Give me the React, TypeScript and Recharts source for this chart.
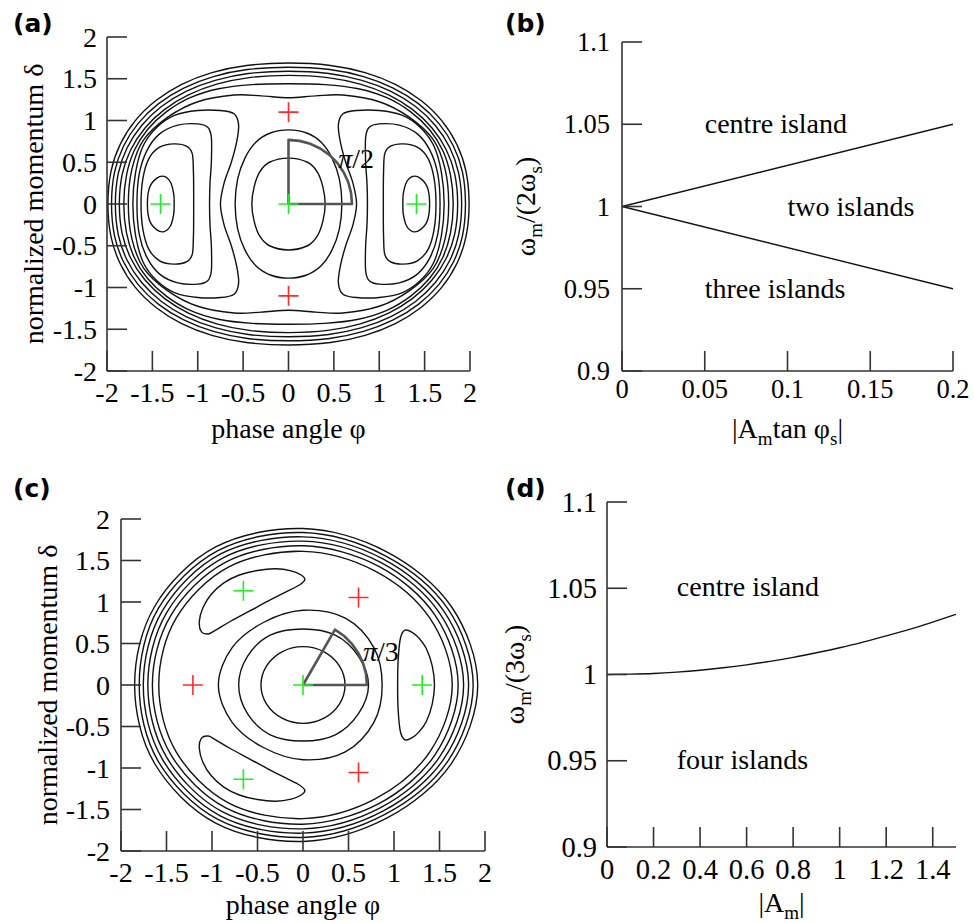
import React from "react";
import { ComposedChart, Line, XAxis, YAxis, ReferenceDot, Label } from "recharts";

type Pt = [number, number];

const SERIF = "'Liberation Serif', 'Times New Roman', serif";
const LETTER = "'DejaVu Sans', 'Liberation Sans', sans-serif";
const FRAME = "#333";
const INK = "#111";
const RED = "#ff2a2a";
const GREEN = "#22ee22";

// ---------- (a) 2:1 resonance phase space ----------
const phaseTicks = [-2, -1.5, -1, -0.5, 0, 0.5, 1, 1.5, 2];

const aOuter1: Pt[] = [
  [1.99, 0], [1.956, 0.392], [1.854, 0.716], [1.688, 0.999], [1.46, 1.239], [1.177, 1.432], [0.844, 1.573], [0.463, 1.659], [0, 1.688],
  [-0.463, 1.659], [-0.844, 1.573], [-1.177, 1.432], [-1.46, 1.239], [-1.688, 0.999], [-1.854, 0.716], [-1.956, 0.392], [-1.99, 0],
  [-1.956, -0.392], [-1.854, -0.716], [-1.688, -0.999], [-1.46, -1.239], [-1.177, -1.432], [-0.844, -1.573], [-0.463, -1.659], [0, -1.688],
  [0.463, -1.659], [0.844, -1.573], [1.177, -1.432], [1.46, -1.239], [1.688, -0.999], [1.854, -0.716], [1.956, -0.392],
];
const aOuter2: Pt[] = [
  [1.95, 0], [1.917, 0.381], [1.817, 0.695], [1.654, 0.969], [1.431, 1.202], [1.154, 1.389], [0.827, 1.526], [0.453, 1.61], [0, 1.638],
  [-0.453, 1.61], [-0.827, 1.526], [-1.154, 1.389], [-1.431, 1.202], [-1.654, 0.969], [-1.817, 0.695], [-1.917, 0.381], [-1.95, 0],
  [-1.917, -0.381], [-1.817, -0.695], [-1.654, -0.969], [-1.431, -1.202], [-1.154, -1.389], [-0.827, -1.526], [-0.453, -1.61], [0, -1.638],
  [0.453, -1.61], [0.827, -1.526], [1.154, -1.389], [1.431, -1.202], [1.654, -0.969], [1.817, -0.695], [1.917, -0.381],
];
const aOuter3: Pt[] = [
  [1.908, 0], [1.875, 0.37], [1.778, 0.674], [1.618, 0.941], [1.4, 1.167], [1.129, 1.349], [0.809, 1.481], [0.443, 1.563], [0, 1.59],
  [-0.443, 1.563], [-0.809, 1.481], [-1.129, 1.349], [-1.4, 1.167], [-1.618, 0.941], [-1.778, 0.674], [-1.875, 0.37], [-1.908, 0],
  [-1.875, -0.37], [-1.778, -0.674], [-1.618, -0.941], [-1.4, -1.167], [-1.129, -1.349], [-0.809, -1.481], [-0.443, -1.563], [0, -1.59],
  [0.443, -1.563], [0.809, -1.481], [1.129, -1.349], [1.4, -1.167], [1.618, -0.941], [1.778, -0.674], [1.875, -0.37],
];
const aOuter4: Pt[] = [
  [1.864, 0], [1.832, 0.358], [1.737, 0.653], [1.581, 0.911], [1.368, 1.13], [1.103, 1.306], [0.791, 1.435], [0.433, 1.514], [0, 1.54],
  [-0.433, 1.514], [-0.791, 1.435], [-1.103, 1.306], [-1.368, 1.13], [-1.581, 0.911], [-1.737, 0.653], [-1.832, 0.358], [-1.864, 0],
  [-1.832, -0.358], [-1.737, -0.653], [-1.581, -0.911], [-1.368, -1.13], [-1.103, -1.306], [-0.791, -1.435], [-0.433, -1.514], [0, -1.54],
  [0.433, -1.514], [0.791, -1.435], [1.103, -1.306], [1.368, -1.13], [1.581, -0.911], [1.737, -0.653], [1.832, -0.358],
];
const aOuter5: Pt[] = [
  [1.815, 0], [1.785, 0.345], [1.7, 0.64], [1.555, 0.89], [1.35, 1.1], [1.09, 1.27], [0.77, 1.38], [0.4, 1.43], [0, 1.44],
  [-0.4, 1.43], [-0.77, 1.38], [-1.09, 1.27], [-1.35, 1.1], [-1.555, 0.89], [-1.7, 0.64], [-1.785, 0.345], [-1.815, 0],
  [-1.785, -0.345], [-1.7, -0.64], [-1.555, -0.89], [-1.35, -1.1], [-1.09, -1.27], [-0.77, -1.38], [-0.4, -1.43], [0, -1.44],
  [0.4, -1.43], [0.77, -1.38], [1.09, -1.27], [1.35, -1.1], [1.555, -0.89], [1.7, -0.64], [1.785, -0.345],
];
const aDimpled: Pt[] = [
  [1.765, 0], [1.725, 0.42], [1.595, 0.77], [1.33, 1.04], [1.0, 1.225], [0.6, 1.305], [0.3, 1.295], [0, 1.272],
  [-0.3, 1.295], [-0.6, 1.305], [-1.0, 1.225], [-1.33, 1.04], [-1.595, 0.77], [-1.725, 0.42], [-1.765, 0],
  [-1.725, -0.42], [-1.595, -0.77], [-1.33, -1.04], [-1.0, -1.225], [-0.6, -1.305], [-0.3, -1.295], [0, -1.272],
  [0.3, -1.295], [0.6, -1.305], [1.0, -1.225], [1.33, -1.04], [1.595, -0.77], [1.725, -0.42],
];
const aLeftK1: Pt[] = [
  [-1.715, 0], [-1.685, 0.38], [-1.6, 0.7], [-1.45, 0.92], [-1.25, 1.065], [-1.0, 1.12], [-0.75, 1.12], [-0.6, 1.08],
  [-0.55, 0.95], [-0.57, 0.75], [-0.63, 0.5], [-0.71, 0.25], [-0.75, 0], [-0.71, -0.25], [-0.63, -0.5],
  [-0.57, -0.75], [-0.55, -0.95], [-0.6, -1.08], [-0.75, -1.12], [-1.0, -1.12], [-1.25, -1.065], [-1.45, -0.92],
  [-1.6, -0.7], [-1.685, -0.38],
];
const aRightK1: Pt[] = [
  [1.715, 0], [1.685, 0.38], [1.6, 0.7], [1.45, 0.92], [1.25, 1.065], [1.0, 1.12], [0.75, 1.12], [0.6, 1.08],
  [0.55, 0.95], [0.57, 0.75], [0.63, 0.5], [0.71, 0.25], [0.75, 0], [0.71, -0.25], [0.63, -0.5],
  [0.57, -0.75], [0.55, -0.95], [0.6, -1.08], [0.75, -1.12], [1.0, -1.12], [1.25, -1.065], [1.45, -0.92],
  [1.6, -0.7], [1.685, -0.38],
];
const aLeftK2: Pt[] = [
  [-1.67, 0], [-1.645, 0.36], [-1.56, 0.64], [-1.42, 0.84], [-1.22, 0.945], [-1.0, 0.96], [-0.89, 0.92],
  [-0.85, 0.8], [-0.85, 0.5], [-0.865, 0.25], [-0.87, 0], [-0.865, -0.25], [-0.85, -0.5], [-0.85, -0.8],
  [-0.89, -0.92], [-1.0, -0.96], [-1.22, -0.945], [-1.42, -0.84], [-1.56, -0.64], [-1.645, -0.36],
];
const aRightK2: Pt[] = [
  [1.67, 0], [1.645, 0.36], [1.56, 0.64], [1.42, 0.84], [1.22, 0.945], [1.0, 0.96], [0.89, 0.92],
  [0.85, 0.8], [0.85, 0.5], [0.865, 0.25], [0.87, 0], [0.865, -0.25], [0.85, -0.5], [0.85, -0.8],
  [0.89, -0.92], [1.0, -0.96], [1.22, -0.945], [1.42, -0.84], [1.56, -0.64], [1.645, -0.36],
];
const aLeftK3: Pt[] = [
  [-1.625, 0], [-1.605, 0.3], [-1.54, 0.54], [-1.42, 0.68], [-1.26, 0.72], [-1.12, 0.69], [-1.06, 0.6],
  [-1.048, 0.4], [-1.045, 0.2], [-1.045, 0], [-1.045, -0.2], [-1.048, -0.4], [-1.06, -0.6], [-1.12, -0.69],
  [-1.26, -0.72], [-1.42, -0.68], [-1.54, -0.54], [-1.605, -0.3],
];
const aRightK3: Pt[] = [
  [1.625, 0], [1.605, 0.3], [1.54, 0.54], [1.42, 0.68], [1.26, 0.72], [1.12, 0.69], [1.06, 0.6],
  [1.048, 0.4], [1.045, 0.2], [1.045, 0], [1.045, -0.2], [1.048, -0.4], [1.06, -0.6], [1.12, -0.69],
  [1.26, -0.72], [1.42, -0.68], [1.54, -0.54], [1.605, -0.3],
];
const aLeftIsland: Pt[] = [
  [-1.555, 0], [-1.53, 0.2], [-1.45, 0.31], [-1.37, 0.33], [-1.3, 0.26], [-1.265, 0.12], [-1.26, 0],
  [-1.265, -0.12], [-1.3, -0.26], [-1.37, -0.33], [-1.45, -0.31], [-1.53, -0.2],
];
const aRightIsland: Pt[] = [
  [1.555, 0], [1.53, 0.2], [1.45, 0.31], [1.37, 0.33], [1.3, 0.26], [1.265, 0.12], [1.26, 0],
  [1.265, -0.12], [1.3, -0.26], [1.37, -0.33], [1.45, -0.31], [1.53, -0.2],
];
const aCentreOuter: Pt[] = [
  [0.588, 0], [0.56, 0.3], [0.48, 0.55], [0.36, 0.74], [0.2, 0.85], [0, 0.888], [-0.2, 0.85], [-0.36, 0.74],
  [-0.48, 0.55], [-0.56, 0.3], [-0.588, 0], [-0.56, -0.3], [-0.48, -0.55], [-0.36, -0.74], [-0.2, -0.85],
  [0, -0.888], [0.2, -0.85], [0.36, -0.74], [0.48, -0.55], [0.56, -0.3],
];
const aCentreInner: Pt[] = [
  [0.404, 0], [0.38, 0.2], [0.32, 0.38], [0.21, 0.5], [0, 0.55], [-0.21, 0.5], [-0.32, 0.38], [-0.38, 0.2],
  [-0.404, 0], [-0.38, -0.2], [-0.32, -0.38], [-0.21, -0.5], [0, -0.55], [0.21, -0.5], [0.32, -0.38], [0.38, -0.2],
];
const aContours = [
  aOuter1, aOuter2, aOuter3, aOuter4, aOuter5, aDimpled, aLeftK1, aRightK1, aLeftK2, aRightK2,
  aLeftK3, aRightK3, aLeftIsland, aRightIsland, aCentreOuter, aCentreInner,
];
const aUnstable: Pt[] = [[0, 1.1], [0, -1.1]];
const aStable: Pt[] = [[-1.41, 0], [0, 0], [1.41, 0]];
const aSector: Pt[] = [
  [0, 0], [0.7, 0], [0.689, 0.133], [0.658, 0.263], [0.606, 0.384], [0.536, 0.494], [0.45, 0.588],
  [0.35, 0.665], [0.239, 0.722], [0.122, 0.756], [0, 0.768], [0, 0],
];

// ---------- (b) 2:1 island regimes ----------
const bTicksX = [0, 0.05, 0.1, 0.15, 0.2];
const bTicksY = [0.9, 0.95, 1, 1.05, 1.1];
const bUpper: Pt[] = [[0, 1], [0.2, 1.05]];
const bLower: Pt[] = [[0, 1], [0.2, 0.95]];
const bNotes = [
  { x: 0.05, y: 1.05, text: "centre island" },
  { x: 0.1, y: 1.0, text: "two islands" },
  { x: 0.05, y: 0.95, text: "three islands" },
];

// ---------- (c) 3:1 resonance phase space ----------
const cRing1: Pt[] = [
  [1.92, 0], [1.632, 0.943], [0.925, 1.602], [0, 1.885], [-0.96, 1.663], [-1.632, 0.943], [-1.85, 0],
  [-1.632, -0.943], [-0.96, -1.663], [0, -1.885], [0.925, -1.602], [1.632, -0.943],
];
const cRing2: Pt[] = [
  [1.87, 0], [1.591, 0.919], [0.9, 1.559], [0, 1.837], [-0.935, 1.619], [-1.591, 0.919], [-1.8, 0],
  [-1.591, -0.919], [-0.935, -1.619], [0, -1.837], [0.9, -1.559], [1.591, -0.919],
];
const cRing3: Pt[] = [
  [1.82, 0], [1.546, 0.893], [0.878, 1.52], [0, 1.785], [-0.91, 1.576], [-1.546, 0.893], [-1.755, 0],
  [-1.546, -0.893], [-0.91, -1.576], [0, -1.785], [0.878, -1.52], [1.546, -0.893],
];
const cRing4: Pt[] = [
  [1.765, 0], [1.501, 0.867], [0.853, 1.477], [0, 1.733], [-0.883, 1.529], [-1.501, 0.867], [-1.705, 0],
  [-1.501, -0.867], [-0.883, -1.529], [0, -1.733], [0.853, -1.477], [1.501, -0.867],
];
const cRing5: Pt[] = [
  [1.705, 0], [1.452, 0.839], [0.828, 1.433], [0, 1.677], [-0.853, 1.477], [-1.452, 0.839], [-1.655, 0],
  [-1.452, -0.839], [-0.853, -1.477], [0, -1.677], [0.828, -1.433], [1.452, -0.839],
];
const cRing6: Pt[] = [
  [1.64, 0], [1.394, 0.805], [0.793, 1.373], [0, 1.61], [-0.82, 1.42], [-1.394, 0.805], [-1.585, 0],
  [-1.394, -0.805], [-0.82, -1.42], [0, -1.61], [0.793, -1.373], [1.394, -0.805],
];
const cIslandRight: Pt[] = [
  [1.12, 0.66], [1.2, 0.635], [1.275, 0.565], [1.355, 0.44], [1.42, 0.23], [1.445, 0], [1.42, -0.23],
  [1.355, -0.44], [1.275, -0.565], [1.2, -0.635], [1.12, -0.66], [1.07, -0.56], [1.045, -0.29], [1.04, 0],
  [1.045, 0.29], [1.07, 0.56],
];
const cIslandUpper: Pt[] = [
  [-1.115, 0.64], [-1.14, 0.76], [-1.1, 0.93], [-1.01, 1.09], [-0.87, 1.23], [-0.7, 1.325], [-0.5, 1.38],
  [-0.3, 1.4], [-0.13, 1.375], [-0.02, 1.325], [0.02, 1.27], [-0.04, 1.205], [-0.18, 1.125], [-0.36, 1.025],
  [-0.58, 0.895], [-0.8, 0.765], [-0.96, 0.66], [-1.04, 0.615],
];
const cIslandLower: Pt[] = [
  [-1.115, -0.64], [-1.14, -0.76], [-1.1, -0.93], [-1.01, -1.09], [-0.87, -1.23], [-0.7, -1.325], [-0.5, -1.38],
  [-0.3, -1.4], [-0.13, -1.375], [-0.02, -1.325], [0.02, -1.27], [-0.04, -1.205], [-0.18, -1.125], [-0.36, -1.025],
  [-0.58, -0.895], [-0.8, -0.765], [-0.96, -0.66], [-1.04, -0.615],
];
const cCentre3: Pt[] = [
  [0.87, 0], [0.779, 0.45], [0.465, 0.805], [0, 0.9], [-0.435, 0.753], [-0.779, 0.45], [-0.93, 0],
  [-0.779, -0.45], [-0.435, -0.753], [0, -0.9], [0.465, -0.805], [0.779, -0.45],
];
const cCentre2: Pt[] = [
  [0.72, 0], [0.61, 0.345], [0.355, 0.6], [0, 0.675], [-0.36, 0.6], [-0.61, 0.345], [-0.707, 0],
  [-0.61, -0.345], [-0.36, -0.6], [0, -0.675], [0.355, -0.6], [0.61, -0.345],
];
const cCentre1: Pt[] = [
  [0.462, 0], [0.4, 0.231], [0.231, 0.4], [0, 0.462], [-0.231, 0.4], [-0.4, 0.231], [-0.462, 0],
  [-0.4, -0.231], [-0.231, -0.4], [0, -0.462], [0.231, -0.4], [0.4, -0.231],
];
const cContours = [
  cRing1, cRing2, cRing3, cRing4, cRing5, cRing6, cIslandRight, cIslandUpper, cIslandLower,
  cCentre3, cCentre2, cCentre1,
];
const cUnstable: Pt[] = [[0.61, 1.055], [-1.21, 0], [0.61, -1.055]];
const cStable: Pt[] = [[0, 0], [1.31, 0], [-0.655, 1.135], [-0.655, -1.135]];
const cSector: Pt[] = [
  [0, 0], [0.7025, 0], [0.692, 0.134], [0.66, 0.263], [0.608, 0.385], [0.538, 0.495], [0.452, 0.59],
  [0.351, 0.667], [0, 0],
];

// ---------- (d) 3:1 island regimes ----------
const dTicksX = [0, 0.2, 0.4, 0.6, 0.8, 1, 1.2, 1.4];
const dTicksY = [0.9, 0.95, 1, 1.05, 1.1];
const dBoundary: Pt[] = [
  [0, 1], [0.1, 1.0002], [0.2, 1.0006], [0.3, 1.0014], [0.4, 1.0025], [0.5, 1.0039], [0.6, 1.0056],
  [0.7, 1.0076], [0.8, 1.0099], [0.9, 1.0126], [1.0, 1.0155], [1.1, 1.0188], [1.2, 1.0224], [1.3, 1.0262],
  [1.4, 1.0304], [1.5, 1.0349],
];
const dNotes = [
  { x: 0.3, y: 1.05, text: "centre island" },
  { x: 0.3, y: 0.95, text: "four islands" },
];

const rows = (pts: Pt[]) => pts.map(([x, y]) => ({ x, y }));

// closed Catmull-Rom curve through every point (d3 curve factory interface)
const closedSmooth: any = (ctx: any) => {
  let pts: number[][] = [];
  return {
    areaStart() {},
    areaEnd() {},
    lineStart() {
      pts = [];
    },
    point(x: number, y: number) {
      pts.push([+x, +y]);
    },
    lineEnd() {
      const n = pts.length;
      if (!n) return;
      ctx.moveTo(pts[0][0], pts[0][1]);
      for (let i = 0; i < n; i++) {
        const p0 = pts[(i - 1 + n) % n];
        const p1 = pts[i];
        const p2 = pts[(i + 1) % n];
        const p3 = pts[(i + 2) % n];
        ctx.bezierCurveTo(
          p1[0] + (p2[0] - p0[0]) / 6,
          p1[1] + (p2[1] - p0[1]) / 6,
          p2[0] - (p3[0] - p1[0]) / 6,
          p2[1] - (p3[1] - p1[1]) / 6,
          p2[0],
          p2[1]
        );
      }
      ctx.closePath();
    },
  };
};

const crossDot = (color: string) => (props: any) => {
  const { cx, cy } = props;
  if (cx == null || cy == null) return <g key={`${color}-none`} />;
  return (
    <path
      key={`${color}-${cx}-${cy}`}
      d={`M${cx - 10},${cy}H${cx + 10}M${cx},${cy - 10}V${cy + 10}`}
      stroke={color}
      strokeWidth={1.6}
      fill="none"
    />
  );
};

type Seg = { t: string; sub?: boolean };

const richText = (segs: Seg[], size: number) => {
  const out: React.ReactNode[] = [];
  let low = false;
  segs.forEach((s, i) => {
    const dy = s.sub && !low ? size * 0.25 : !s.sub && low ? -size * 0.25 : 0;
    low = !!s.sub;
    out.push(
      <tspan key={i} dy={dy} style={{ fontSize: s.sub ? size * 0.68 : size }}>
        {s.t}
      </tspan>
    );
  });
  return out;
};

interface PanelCfg {
  left: number;
  top: number;
  width: number;
  height: number;
  margin: { top: number; right: number; bottom: number; left: number };
  yWidth: number;
  xHeight: number;
  xDomain: [number, number];
  yDomain: [number, number];
  xTicks: number[];
  yTicks: number[];
  tickFont: number;
  xTickMargin: number;
  yTickMargin: number;
  xLabel: Seg[];
  yLabel: Seg[];
  xLabelAt: [number, number];
  yLabelAt: [number, number];
}

const axisStyle = { stroke: FRAME, strokeWidth: 1.6 };
const serifStyle = (size: number) => ({ fontFamily: SERIF, fontSize: size });

const bottomTick = (size: number) => (p: any) => (
  <text key={`bt-${p.index}`} x={p.x} y={p.y} dy={size * 0.71} textAnchor="middle" fill="#000" style={serifStyle(size)}>
    {p.payload.value}
  </text>
);
const leftTick = (size: number) => (p: any) => (
  <text key={`lt-${p.index}`} x={p.x} y={p.y} dy={size * 0.34} textAnchor="end" fill="#000" style={serifStyle(size)}>
    {p.payload.value}
  </text>
);

function panel(cfg: PanelCfg, series: React.ReactNode[]) {
  const xLab = () => (
    <text x={cfg.xLabelAt[0]} y={cfg.xLabelAt[1]} textAnchor="middle" fill="#000" style={serifStyle(28)}>
      {richText(cfg.xLabel, 28)}
    </text>
  );
  const yLab = () => (
    <text
      x={cfg.yLabelAt[0]}
      y={cfg.yLabelAt[1]}
      transform={`rotate(-90 ${cfg.yLabelAt[0]} ${cfg.yLabelAt[1]})`}
      textAnchor="middle"
      fill="#000"
      style={serifStyle(28)}
    >
      {richText(cfg.yLabel, 28)}
    </text>
  );
  return (
    <div style={{ position: "absolute", left: cfg.left, top: cfg.top }}>
      <ComposedChart width={cfg.width} height={cfg.height} margin={cfg.margin}>
        <XAxis
          xAxisId="b"
          type="number"
          dataKey="x"
          domain={cfg.xDomain}
          ticks={cfg.xTicks}
          interval={0}
          allowDataOverflow
          height={cfg.xHeight}
          tickSize={-20}
          tickMargin={cfg.xTickMargin}
          axisLine={axisStyle}
          tickLine={axisStyle}
          tick={bottomTick(cfg.tickFont)}
          label={<Label content={xLab} />}
        />
        <XAxis
          xAxisId="t"
          orientation="top"
          type="number"
          dataKey="x"
          domain={cfg.xDomain}
          ticks={cfg.xTicks}
          interval={0}
          allowDataOverflow
          height={0}
          tickSize={-20}
          axisLine={axisStyle}
          tickLine={axisStyle}
          tickFormatter={() => ""}
        />
        <YAxis
          yAxisId="l"
          type="number"
          dataKey="y"
          domain={cfg.yDomain}
          ticks={cfg.yTicks}
          interval={0}
          allowDataOverflow
          width={cfg.yWidth}
          tickSize={-20}
          tickMargin={cfg.yTickMargin}
          axisLine={axisStyle}
          tickLine={axisStyle}
          tick={leftTick(cfg.tickFont)}
          label={<Label content={yLab} />}
        />
        <YAxis
          yAxisId="r"
          orientation="right"
          type="number"
          dataKey="y"
          domain={cfg.yDomain}
          ticks={cfg.yTicks}
          interval={0}
          allowDataOverflow
          width={0}
          tickSize={-20}
          axisLine={axisStyle}
          tickLine={axisStyle}
          tickFormatter={() => ""}
        />
        {series}
      </ComposedChart>
    </div>
  );
}

const contourLines = (curves: Pt[][], id: string) =>
  curves.map((c, i) => (
    <Line
      key={`${id}-${i}`}
      xAxisId="b"
      yAxisId="l"
      data={rows(c)}
      dataKey="y"
      type={closedSmooth}
      stroke={INK}
      strokeWidth={1.4}
      dot={false}
      activeDot={false}
      legendType="none"
      isAnimationActive={false}
    />
  ));

const openLine = (pts: Pt[], key: string, type: any = "linear", color = INK, width = 1.4) => (
  <Line
    key={key}
    xAxisId="b"
    yAxisId="l"
    data={rows(pts)}
    dataKey="y"
    type={type}
    stroke={color}
    strokeWidth={width}
    strokeLinejoin="round"
    dot={false}
    activeDot={false}
    legendType="none"
    isAnimationActive={false}
  />
);

const markers = (pts: Pt[], key: string, color: string) => (
  <Line
    key={key}
    xAxisId="b"
    yAxisId="l"
    data={rows(pts)}
    dataKey="y"
    stroke="none"
    dot={crossDot(color)}
    activeDot={false}
    legendType="none"
    isAnimationActive={false}
  />
);

const note = (x: number, y: number, text: React.ReactNode, key: string, dy: number, size = 28) => (
  <ReferenceDot
    key={key}
    xAxisId="b"
    yAxisId="l"
    x={x}
    y={y}
    r={1}
    fill="none"
    stroke="none"
    label={
      <Label
        content={(p: any) => {
          const vb = p.viewBox || {};
          const px = (vb.x ?? 0) + (vb.width ?? 0) / 2;
          const py = (vb.y ?? 0) + (vb.height ?? 0) / 2;
          return (
            <text x={px} y={py + dy} fill="#000" style={serifStyle(size)}>
              {text}
            </text>
          );
        }}
      />
    }
  />
);

const panelLetter = (t: string, left: number, top: number) => (
  <div
    style={{
      position: "absolute",
      left,
      top,
      fontFamily: LETTER,
      fontWeight: "bold",
      fontSize: 25,
      lineHeight: 1,
      color: "#000",
    }}
  >
    {t}
  </div>
);

const phiLabel: Seg[] = [{ t: "phase angle φ" }];
const deltaLabel: Seg[] = [{ t: "normalized momentum δ" }];

export default function App() {
  const cfgA: PanelCfg = {
    left: 0, top: 0, width: 480, height: 450,
    margin: { top: 37, right: 10, bottom: 0, left: 0 },
    yWidth: 107, xHeight: 79,
    xDomain: [-2, 2], yDomain: [-2, 2], xTicks: phaseTicks, yTicks: phaseTicks,
    tickFont: 28, xTickMargin: 31, yTickMargin: 30,
    xLabel: phiLabel, yLabel: deltaLabel, xLabelAt: [288.5, 438], yLabelAt: [43, 204],
  };
  const cfgB: PanelCfg = {
    left: 480, top: 0, width: 494, height: 450,
    margin: { top: 42, right: 21, bottom: 0, left: 0 },
    yWidth: 142, xHeight: 79,
    xDomain: [0, 0.2], yDomain: [0.9, 1.1], xTicks: bTicksX, yTicks: bTicksY,
    tickFont: 26.5, xTickMargin: 28, yTickMargin: 32,
    xLabel: [{ t: "|A" }, { t: "m", sub: true }, { t: "tan φ" }, { t: "s", sub: true }, { t: "|" }],
    yLabel: [{ t: "ω" }, { t: "m", sub: true }, { t: "/(2ω" }, { t: "s", sub: true }, { t: ")" }],
    xLabelAt: [307.5, 438], yLabelAt: [55, 206.5],
  };
  const cfgC: PanelCfg = {
    left: 0, top: 450, width: 500, height: 473,
    margin: { top: 69, right: 15, bottom: 0, left: 0 },
    yWidth: 121, xHeight: 72,
    xDomain: [-2, 2], yDomain: [-2, 2], xTicks: phaseTicks, yTicks: phaseTicks,
    tickFont: 28, xTickMargin: 31, yTickMargin: 31,
    xLabel: phiLabel, yLabel: deltaLabel, xLabelAt: [303, 464], yLabelAt: [57, 235],
  };
  const cfgD: PanelCfg = {
    left: 480, top: 450, width: 494, height: 473,
    margin: { top: 52, right: 18, bottom: 0, left: 0 },
    yWidth: 127, xHeight: 76,
    xDomain: [0, 1.5], yDomain: [0.9, 1.1], xTicks: dTicksX, yTicks: dTicksY,
    tickFont: 28.5, xTickMargin: 32, yTickMargin: 30,
    xLabel: [{ t: "|A" }, { t: "m", sub: true }, { t: "|" }],
    yLabel: [{ t: "ω" }, { t: "m", sub: true }, { t: "/(3ω" }, { t: "s", sub: true }, { t: ")" }],
    xLabelAt: [301.5, 462], yLabelAt: [44, 224.5],
  };

  const piLabel = (d: string) => [
    <tspan key="p" fontStyle="italic">π</tspan>,
    <tspan key="d">/{d}</tspan>,
  ];

  return (
    <div
      style={{
        position: "absolute",
        left: 0,
        top: 0,
        width: 974,
        height: 923,
        background: "#fff",
        fontFamily: SERIF,
        overflow: "hidden",
      }}
    >
      {panel(cfgA, [
        ...contourLines(aContours, "a"),
        openLine(aSector, "a-sector", "linear", "#555", 2.6),
        markers(aUnstable, "a-red", RED),
        markers(aStable, "a-green", GREEN),
        note(0.548, 0.432, piLabel("2"), "a-pi", 0),
      ])}
      {panel(cfgB, [
        openLine(bUpper, "b-up"),
        openLine(bLower, "b-low"),
        ...bNotes.map((n, i) => note(n.x, n.y, n.text, `b-n${i}`, 9)),
      ])}
      {panel(cfgC, [
        ...contourLines(cContours, "c"),
        openLine(cSector, "c-sector", "linear", "#555", 2.6),
        markers(cUnstable, "c-red", RED),
        markers(cStable, "c-green", GREEN),
        note(0.66, 0.289, piLabel("3"), "c-pi", 0),
      ])}
      {panel(cfgD, [
        openLine(dBoundary, "d-curve", "monotone"),
        ...dNotes.map((n, i) => note(n.x, n.y, n.text, `d-n${i}`, 8)),
      ])}
      {panelLetter("(a)", 13, 11)}
      {panelLetter("(b)", 505, 11)}
      {panelLetter("(c)", 13, 476)}
      {panelLetter("(d)", 505, 476)}
    </div>
  );
}
